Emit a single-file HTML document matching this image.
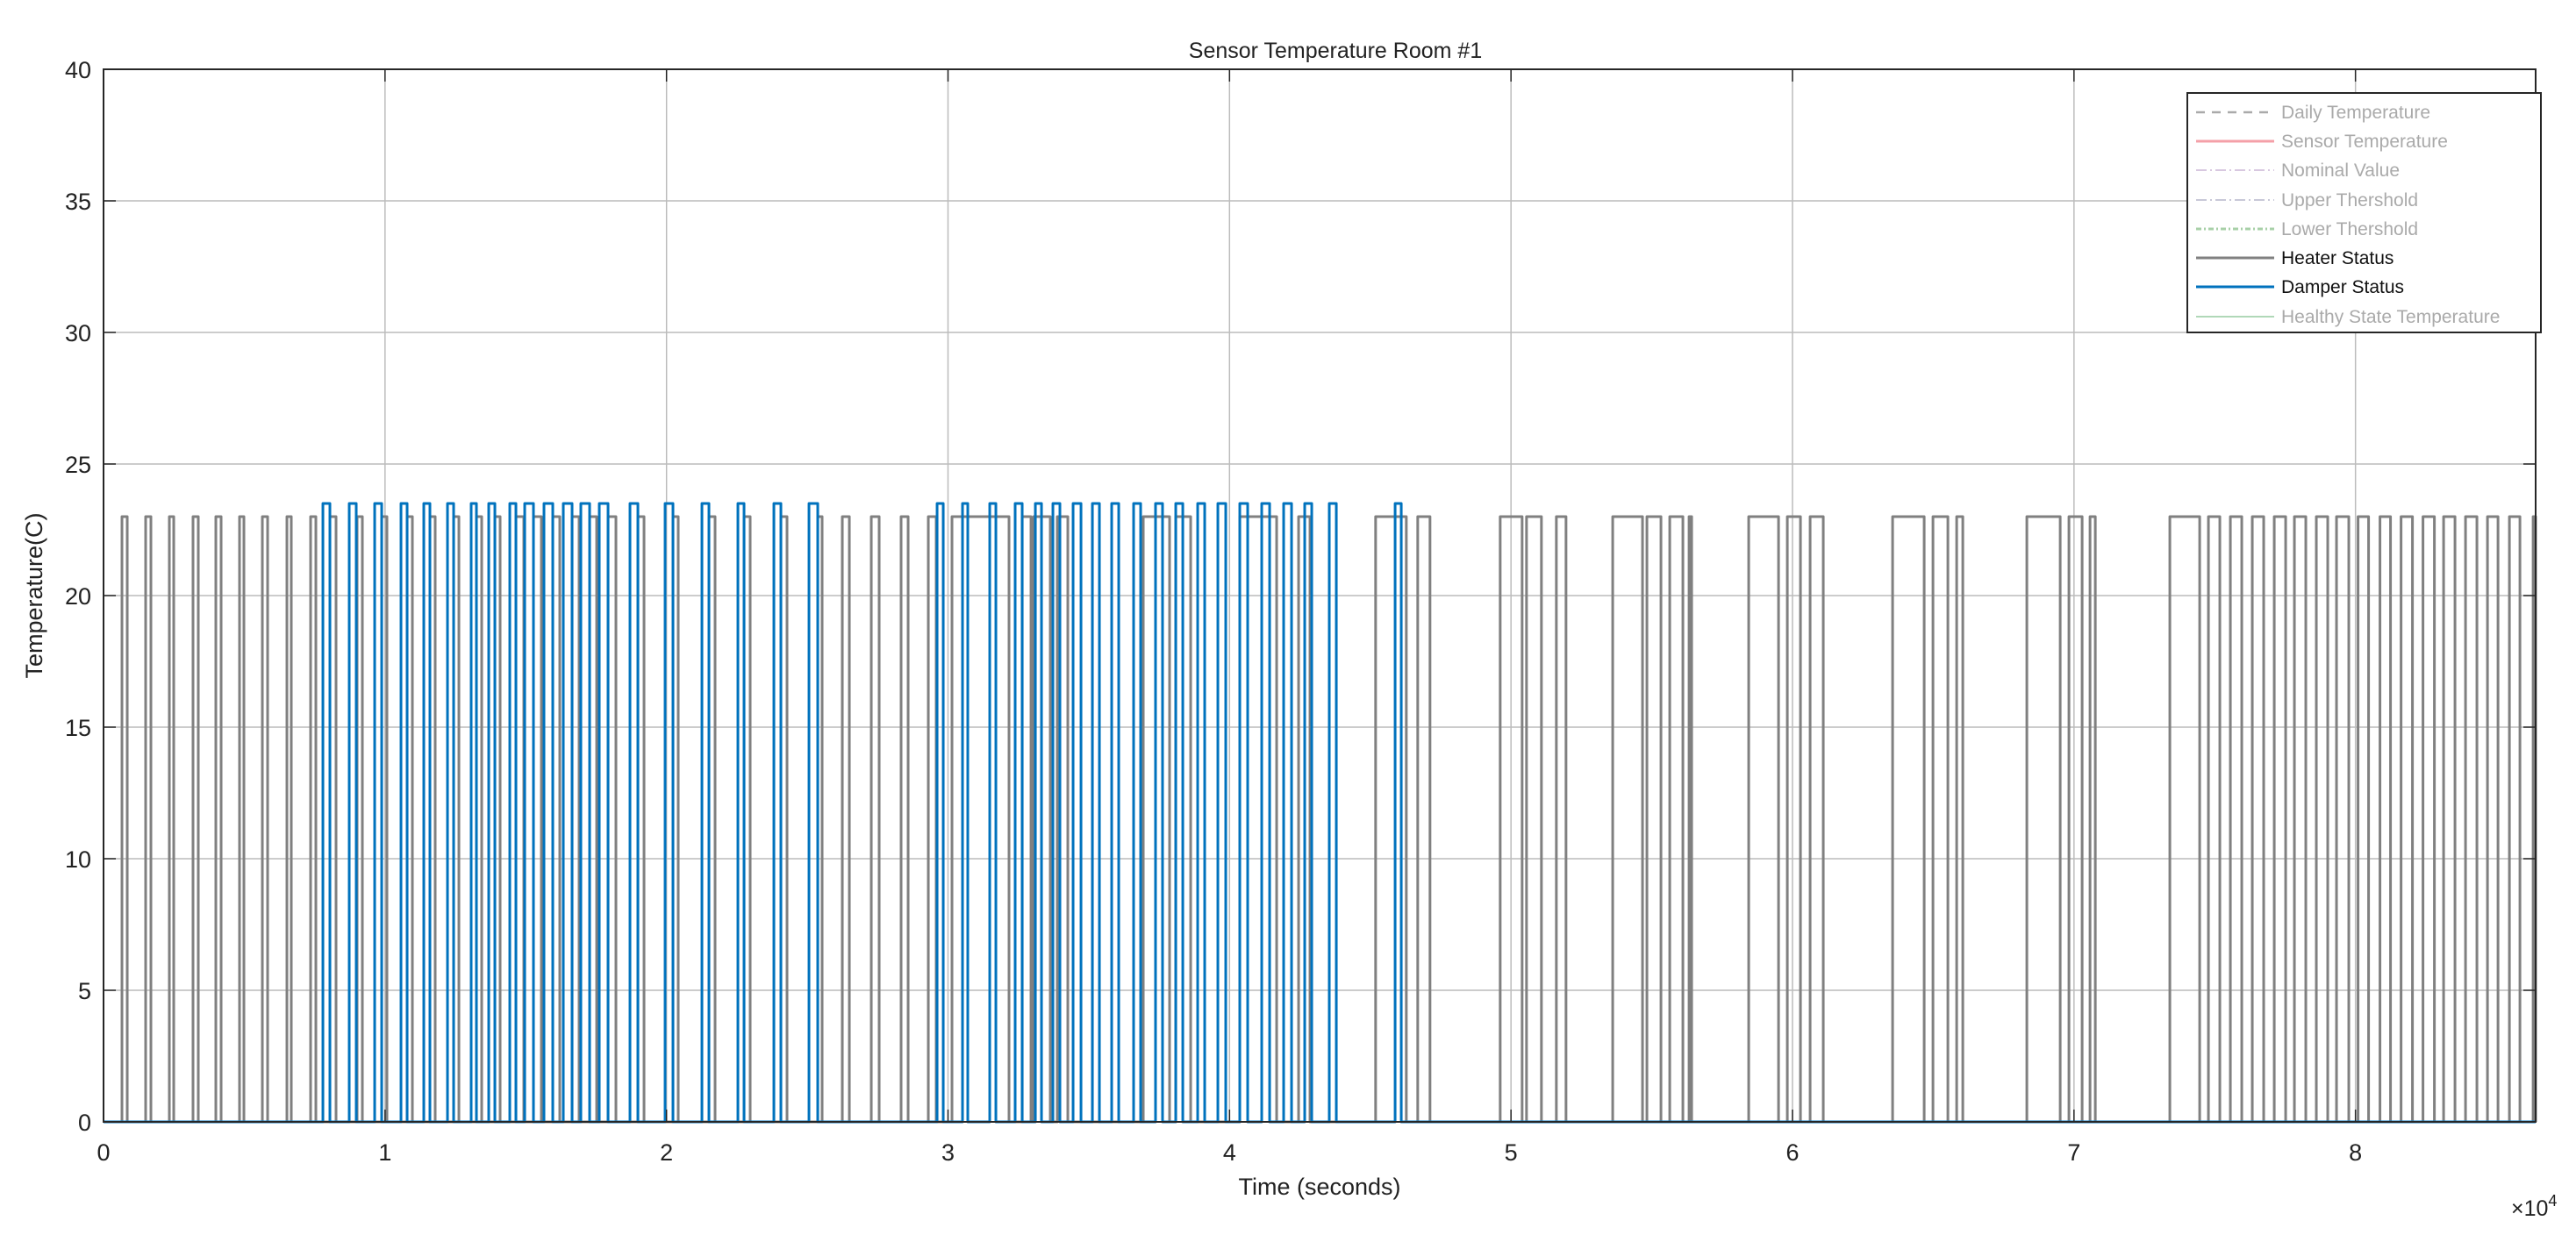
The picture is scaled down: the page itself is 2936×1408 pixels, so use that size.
<!DOCTYPE html>
<html><head><meta charset="utf-8"><style>
html,body{margin:0;padding:0;background:#fff;}
svg{display:block;font-family:"Liberation Sans",sans-serif;}
</style></head><body>
<svg id="chart" width="2936" height="1408" viewBox="0 0 2936 1408">
<rect x="0" y="0" width="2936" height="1408" fill="#fff"/>
<g id="grid"></g>
<g id="series"></g>
<g id="axes"></g>
<text x="1522" y="66" text-anchor="middle" font-size="25" fill="#222">Sensor Temperature Room #1</text>
<text x="1504" y="1362" text-anchor="middle" font-size="27" fill="#222">Time (seconds)</text>
<text transform="translate(48,679) rotate(-90)" text-anchor="middle" font-size="27" fill="#222">Temperature(C)</text>
<text x="2862" y="1386" font-size="25" fill="#222">×10<tspan dy="-11" font-size="18">4</tspan></text>
<g>
<rect x="2493" y="106" width="403" height="273" fill="#fff" stroke="#262626" stroke-width="2"/>
<g font-size="21">
<line x1="2503" x2="2592" y1="128" y2="128" stroke="#aaa" stroke-width="2.5" stroke-dasharray="10,8"/><text x="2600" y="135" fill="#aaa">Daily Temperature</text>
<line x1="2503" x2="2592" y1="161" y2="161" stroke="#f4a0a8" stroke-width="3"/><text x="2600" y="168" fill="#aaa">Sensor Temperature</text>
<line x1="2503" x2="2592" y1="194" y2="194" stroke="#d8c8e0" stroke-width="2" stroke-dasharray="12,4,2,4"/><text x="2600" y="201" fill="#aaa">Nominal Value</text>
<line x1="2503" x2="2592" y1="228" y2="228" stroke="#c8c8d8" stroke-width="2" stroke-dasharray="12,4,2,4"/><text x="2600" y="235" fill="#aaa">Upper Thershold</text>
<line x1="2503" x2="2592" y1="261" y2="261" stroke="#a8d0a8" stroke-width="3" stroke-dasharray="6,3,2,3"/><text x="2600" y="268" fill="#aaa">Lower Thershold</text>
<line x1="2503" x2="2592" y1="294" y2="294" stroke="#808080" stroke-width="3"/><text x="2600" y="301" fill="#111">Heater Status</text>
<line x1="2503" x2="2592" y1="327" y2="327" stroke="#0072bd" stroke-width="3"/><text x="2600" y="334" fill="#111">Damper Status</text>
<line x1="2503" x2="2592" y1="361" y2="361" stroke="#b0d8b8" stroke-width="2"/><text x="2600" y="368" fill="#aaa">Healthy State Temperature</text>
</g></g>
</svg>
<script>
const xTicks=[0,10000,20000,30000,40000,50000,60000,70000,80000];
const xTickLabels=["0","1","2","3","4","5","6","7","8"];
const yTicks=[0,5,10,15,20,25,30,35,40];
const heaterLevel=23;
const damperLevel=23.5;
const heaterOn=[655,1496,2338,3179,3990,4831,5642,6515,7356,8042,9008,9881,10785,11595,12437,13247,13902,14650,15273,15959,16645,17268,17923,18983,20229,21507,22754,24063,25372,26245,27274,28333,29300,30141,32635,33040,33882,36936,38090,40365,42454,45190,46686,49616,50551,51611,53613,54828,55639,56325,58444,59816,60626,63556,64990,65832,68325,69821,70570,73405,74776,75555,76334,77114,77830,78609,79326,80091,80870,81619,82398,83130,83909,84689,85468,86310];
const heaterOff=[842,1683,2494,3366,4177,4987,5829,6670,7543,8260,9195,10068,10972,11782,12624,13434,14089,14930,15554,16208,16894,17518,18203,19201,20416,21725,22972,24281,25528,26495,27554,28583,29580,32167,32947,33633,34256,37871,38620,41674,42859,46281,47122,50395,51081,51954,54672,55327,56106,56418,59504,60283,61093,64678,65520,66050,69510,70289,70757,74465,75181,75960,76739,77519,78235,79014,79762,80465,81244,82024,82803,83535,84314,85063,85842,86400];
const damperOn=[7793,8728,9632,10567,11377,12219,13060,13684,14432,14962,15647,16333,16956,17611,18702,19949,21258,22536,23814,25061,29612,30515,31482,32385,33103,33726,34443,35129,35814,36593,37372,38090,38869,39586,40365,41144,41923,42671,43544,45883];
const damperOff=[8042,8977,9881,10785,11595,12437,13247,13902,14650,15273,15959,16645,17268,17923,18983,20229,21507,22754,24063,25372,29830,30702,31700,32635,33321,33975,34724,35378,36064,36843,37621,38340,39118,39866,40645,41425,42204,42921,43794,46101];
const L=118,R=2890,T=79,B=1279,XMAX=86400,YMAX=40;
function sx(v){return L+v/XMAX*(R-L);}
function sy(v){return B-v/YMAX*(B-T);}
const NS="http://www.w3.org/2000/svg";
function mk(tag,attrs,parent){const e=document.createElementNS(NS,tag);for(const k in attrs)e.setAttribute(k,attrs[k]);parent.appendChild(e);return e;}
const grid=document.getElementById('grid'),axes=document.getElementById('axes'),series=document.getElementById('series');
xTicks.forEach((t,i)=>{
 const g=mk('line',{x1:sx(t),x2:sx(t),y1:T,y2:B,stroke:'#bcbcbc','stroke-width':1.5},grid);
 
 
 mk('line',{x1:sx(t),x2:sx(t),y1:B,y2:B-14,stroke:'#262626','stroke-width':1.5},axes);
 mk('line',{x1:sx(t),x2:sx(t),y1:T,y2:T+14,stroke:'#262626','stroke-width':1.5},axes);
 const tx=mk('text',{x:sx(t),y:1323,'text-anchor':'middle','font-size':27,fill:'#222'},axes);
 tx.textContent=xTickLabels[i];
 
 
});
yTicks.forEach(t=>{
 const g=mk('line',{x1:L,x2:R,y1:sy(t),y2:sy(t),stroke:'#bcbcbc','stroke-width':1.5},grid);
 
 
 mk('line',{x1:L,x2:L+14,y1:sy(t),y2:sy(t),stroke:'#262626','stroke-width':1.5},axes);
 mk('line',{x1:R,x2:R-14,y1:sy(t),y2:sy(t),stroke:'#262626','stroke-width':1.5},axes);
 const tx=mk('text',{x:104,y:sy(t)+10,'text-anchor':'end','font-size':27,fill:'#222'},axes);
 tx.textContent=String(t);
 
 
});
const box=mk('rect',{x:L,y:T,width:R-L,height:B-T,fill:'none',stroke:'#262626','stroke-width':2},axes);


function stepPath(on,off,level){
 let d='M'+sx(0)+','+sy(0);
 for(let i=0;i<on.length;i++){
  d+=' L'+sx(on[i])+','+sy(0)+' L'+sx(on[i])+','+sy(level)+' L'+sx(off[i])+','+sy(level)+' L'+sx(off[i])+','+sy(0);
 }
 d+=' L'+sx(XMAX)+','+sy(0);
 return d;
}
const hp=mk('path',{d:stepPath(heaterOn,heaterOff,heaterLevel),fill:'none',stroke:'#808080','stroke-width':3,'stroke-linejoin':'round'},series);


const dp=mk('path',{d:stepPath(damperOn,damperOff,damperLevel),fill:'none',stroke:'#0072bd','stroke-width':3,'stroke-linejoin':'round'},series);


</script>
</body></html>
